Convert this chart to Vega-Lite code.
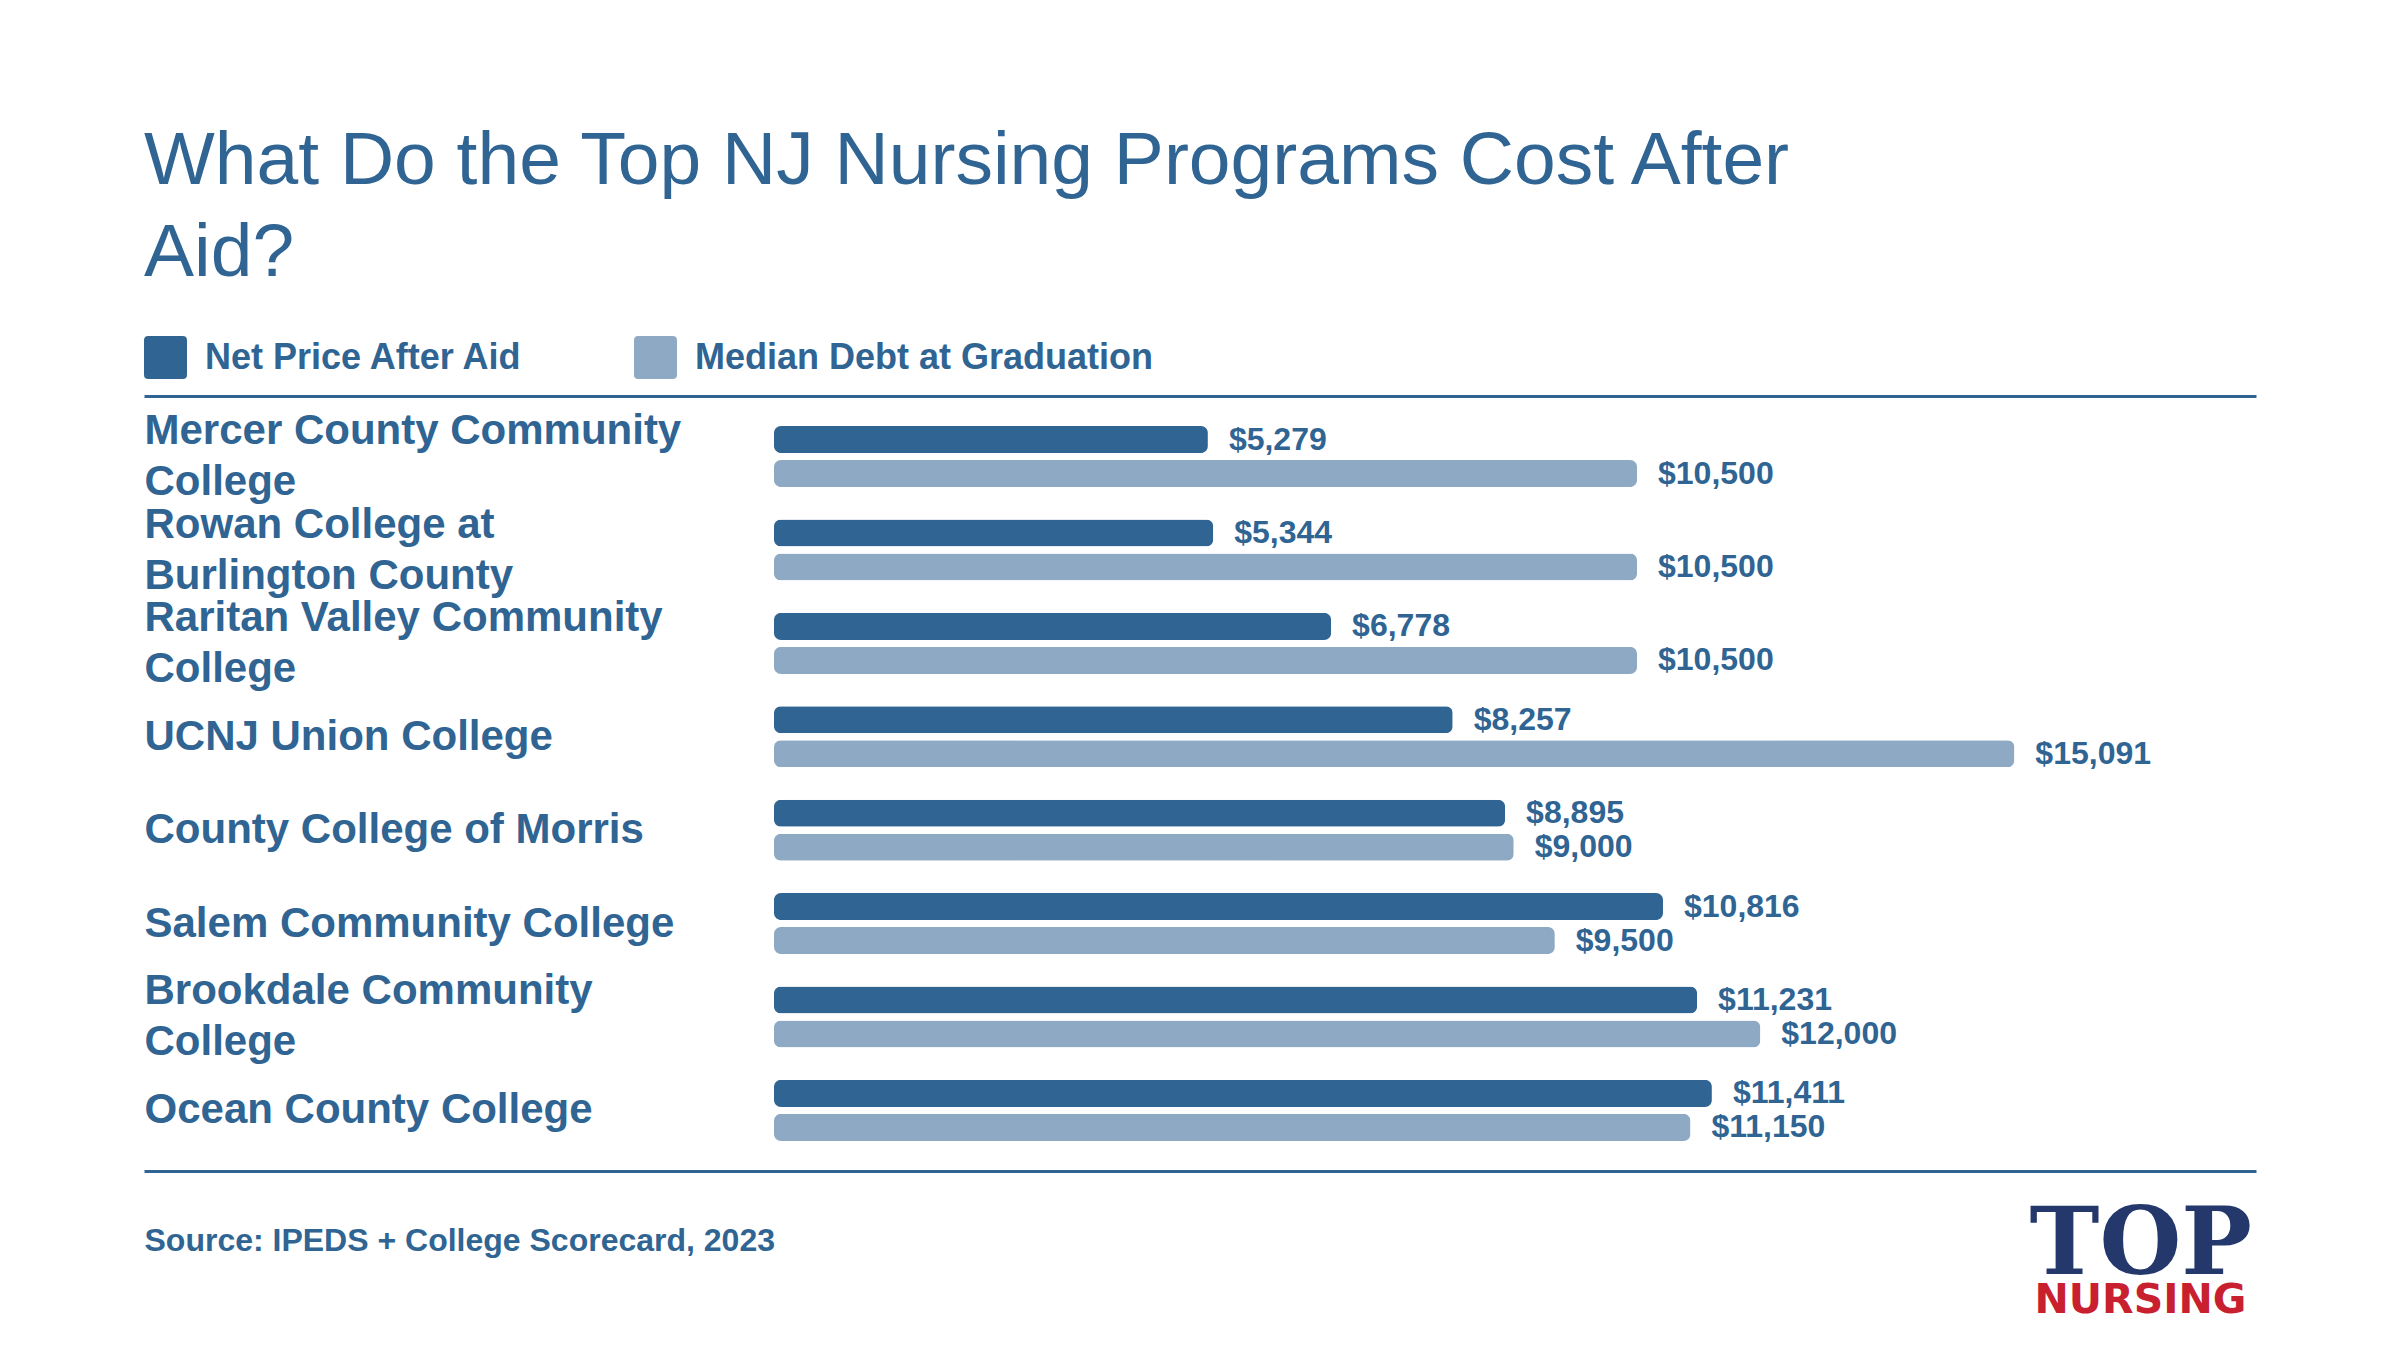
{
  "$schema": "https://vega.github.io/schema/vega-lite/v6.json",
  "width": 2112,
  "height": 775,
  "autosize": "none",
  "padding": {"left": 144, "top": 396, "right": 144, "bottom": 179},
  "background": "white",
  "title": {
    "text": ["What Do the Top NJ Nursing Programs Cost After", "Aid?"],
    "anchor": "start",
    "frame": "group",
    "font": "Liberation Sans",
    "fontSize": 75,
    "fontWeight": "normal",
    "color": "#2F6493",
    "lineHeight": 92,
    "baseline": "alphabetic",
    "offset": -15
  },
  "data": {
    "values": [
      {"college": "Mercer County Community College", "measure": "Net Price After Aid", "value": 5279},
      {"college": "Mercer County Community College", "measure": "Median Debt at Graduation", "value": 10500},
      {"college": "Rowan College at Burlington County", "measure": "Net Price After Aid", "value": 5344},
      {"college": "Rowan College at Burlington County", "measure": "Median Debt at Graduation", "value": 10500},
      {"college": "Raritan Valley Community College", "measure": "Net Price After Aid", "value": 6778},
      {"college": "Raritan Valley Community College", "measure": "Median Debt at Graduation", "value": 10500},
      {"college": "UCNJ Union College", "measure": "Net Price After Aid", "value": 8257},
      {"college": "UCNJ Union College", "measure": "Median Debt at Graduation", "value": 15091},
      {"college": "County College of Morris", "measure": "Net Price After Aid", "value": 8895},
      {"college": "County College of Morris", "measure": "Median Debt at Graduation", "value": 9000},
      {"college": "Salem Community College", "measure": "Net Price After Aid", "value": 10816},
      {"college": "Salem Community College", "measure": "Median Debt at Graduation", "value": 9500},
      {"college": "Brookdale Community College", "measure": "Net Price After Aid", "value": 11231},
      {"college": "Brookdale Community College", "measure": "Median Debt at Graduation", "value": 12000},
      {"college": "Ocean County College", "measure": "Net Price After Aid", "value": 11411},
      {"college": "Ocean County College", "measure": "Median Debt at Graduation", "value": 11150}
    ]
  },
  "layer": [
    {
      "mark": {"type": "bar", "cornerRadius": 7},
      "encoding": {
        "y": {
          "field": "college", "type": "nominal", "sort": null,
          "scale": {"paddingInner": 0.347, "paddingOuter": 0.3225},
          "axis": {
            "orient": "left",
            "title": "TOP",
            "titleX": 1885, "titleY": 877, "titleAngle": 0,
            "titleAlign": "left", "titleBaseline": "alphabetic",
            "titleFont": "DejaVu Serif", "titleFontSize": 94, "titleFontWeight": "bold", "titleColor": "#24386B",
            "labelAlign": "left", "labelPadding": 0, "ticks": false, "tickSize": 0, "domain": false, "grid": false,
            "labelFont": "Liberation Sans", "labelFontSize": 42, "labelFontWeight": "bold", "labelColor": "#2F6493",
            "labelLineHeight": 51, "labelBaseline": "middle", "labelLimit": 0,
            "labelOffset": {"condition": {"test": "length(datum.value) > 24", "value": -25.5}, "value": 0},
            "labelExpr": "datum.value == 'Rowan College at Burlington County' ? ['Rowan College at', 'Burlington County'] : length(datum.value) > 24 ? [substring(datum.value, 0, length(datum.value) - 8), 'College'] : datum.value"
          }
        },
        "yOffset": {
          "field": "measure", "type": "nominal",
          "sort": ["Net Price After Aid", "Median Debt at Graduation"],
          "scale": {"paddingInner": 0.206, "paddingOuter": 0}
        },
        "x": {
          "field": "value", "type": "quantitative",
          "scale": {"domain": [-7665, 18031], "nice": false},
          "axis": {"orient": "top", "labels": false, "ticks": false, "grid": false, "domain": true, "domainColor": "#2F6493", "domainWidth": 3, "title": null}
        },
        "color": {
          "field": "measure", "type": "nominal",
          "scale": {"domain": ["Net Price After Aid", "Median Debt at Graduation"], "range": ["#2F6493", "#8EA9C4"]},
          "legend": {
            "orient": "none", "legendX": 0, "legendY": -60,
            "direction": "horizontal", "columns": 2, "title": null,
            "symbolType": "M-0.8,-1L0.8,-1Q1,-1,1,-0.8L1,0.8Q1,1,0.8,1L-0.8,1Q-1,1,-1,0.8L-1,-0.8Q-1,-1,-0.8,-1Z",
            "symbolSize": 1849, "symbolStrokeWidth": 0, "symbolOpacity": 1,
            "labelFont": "Liberation Sans", "labelFontSize": 36, "labelFontWeight": "bold", "labelColor": "#2F6493",
            "labelOffset": 18, "columnPadding": 110, "padding": 0, "labelLimit": 0
          }
        }
      }
    },
    {
      "mark": {"type": "text", "align": "left", "baseline": "middle", "dx": 21, "font": "Liberation Sans", "fontSize": 32, "fontWeight": "bold", "color": "#2F6493"},
      "encoding": {
        "y": {
          "field": "college", "type": "nominal", "sort": null,
          "axis": {
            "orient": "right", "labels": false, "ticks": false, "domain": false, "grid": false,
            "title": "NURSING", "titleAngle": 0, "titleX": -222, "titleY": 916,
            "titleAlign": "left", "titleBaseline": "alphabetic",
            "titleFont": "DejaVu Sans", "titleFontSize": 41, "titleFontWeight": "bold", "titleColor": "#C8202F"
          }
        },
        "yOffset": {
          "field": "measure", "type": "nominal",
          "sort": ["Net Price After Aid", "Median Debt at Graduation"]
        },
        "x": {
          "field": "value", "type": "quantitative",
          "axis": {
            "orient": "bottom", "labels": false, "ticks": false, "grid": false, "domain": true, "domainColor": "#2F6493", "domainWidth": 3,
            "title": "Source: IPEDS + College Scorecard, 2023",
            "titleX": 0, "titleY": 79, "titleAlign": "left", "titleAnchor": "start", "titleBaseline": "alphabetic",
            "titleFont": "Liberation Sans", "titleFontSize": 32, "titleFontWeight": "bold", "titleColor": "#2F6493"
          }
        },
        "text": {"field": "value", "type": "quantitative", "format": "$,.0f"}
      }
    }
  ],
  "resolve": {"axis": {"x": "independent", "y": "independent"}},
  "config": {"view": {"stroke": null}}
}
